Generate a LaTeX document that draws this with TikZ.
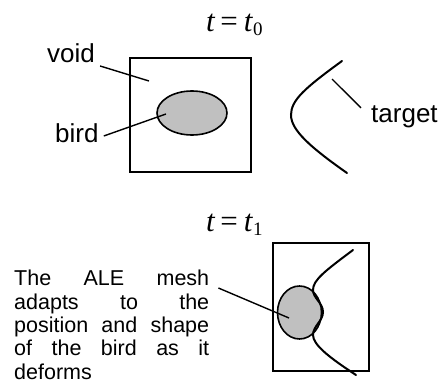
\documentclass[tikz,border=0pt]{standalone}
\usepackage{fontspec}
\setmainfont{Liberation Serif}
\setsansfont{Liberation Sans}
\usetikzlibrary{positioning,shapes.geometric}
\definecolor{birdgray}{RGB}{192,192,192}
\newcommand{\timeat}[1]{\textit{t}\hspace{5pt}=\hspace{6pt}\textit{t}%
  \raisebox{-4pt}{\fontsize{19}{19}\selectfont #1}}
\tikzset{
  meshbox/.style={draw,line width=1.6pt,inner sep=0pt},
  birdbody/.style={ellipse,draw,line width=1.6pt,fill=birdgray,inner sep=0pt},
  wall/.style={line width=2pt,line cap=round},
  leader/.style={line width=1.4pt},
  tag/.style={font=\sffamily\fontsize{26}{30}\selectfont,inner sep=0pt},
  timelab/.style={font=\fontsize{31}{34}\selectfont,inner sep=0pt},
  note/.style={font=\sffamily\fontsize{21.5}{23.3}\selectfont,
    text width=195pt,align=justify,inner sep=0pt}
}
\begin{document}
\begin{tikzpicture}[x=1pt,y=1pt]
  \useasboundingbox (0,0) rectangle (439,383);
  % t = t0
  \node[timelab,anchor=base west] (t0) at (206,351) {\timeat{0}};
  \node[meshbox,minimum width=121pt,minimum height=114pt] (void0) at (190.5,268) {};
  \node[birdbody,minimum width=70pt,minimum height=44pt] (bird0) at (192,270) {};
  \draw[wall] (342,322) .. controls (305,295) and (291,283) .. (291,268)
    .. controls (291,253) and (310,236) .. (347,210);
  \node[tag,anchor=base west] (voidlab) at (47,320) {void};
  \node[tag,anchor=base west] (birdlab) at (55,240) {bird};
  \node[tag,anchor=base west] (targetlab) at (371,260) {target};
  \coordinate (voidpt) at (149,302);
  \coordinate (birdpt) at (166,269);
  \coordinate (targetpt) at (332,304);
  \draw[leader] ([shift={(5pt,-3pt)}]voidlab.base east) -- (voidpt);
  \draw[leader] ([shift={(5pt,7pt)}]birdlab.base east) -- (birdpt);
  \draw[leader] ([shift={(-10pt,-2pt)}]targetlab.north west) -- (targetpt);
  % t = t1
  \node[timelab,anchor=base west] (t1) at (206,151) {\timeat{1}};
  \node[meshbox,minimum width=96pt,minimum height=128pt] (void1) at (321,76) {};
  \node[birdbody,minimum width=44pt,minimum height=53pt] (bird1) at (299.5,70.5) {};
  \draw[wall] (353,133) .. controls (325,112) and (313,103) .. (313,93)
    .. controls (313,85) and (323,80) .. (323,71)
    .. controls (323,62) and (313,57) .. (313,48)
    .. controls (313,38) and (330,25) .. (356,8);
  \node[note,anchor=base west] (meshnote) at (14,97)
    {The ALE mesh\linebreak adapts to the\linebreak position and shape\linebreak
     of the bird as it\linebreak deforms};
  \coordinate (meshpt) at (289,65);
  \draw[leader] ([shift={(9pt,-2pt)}]meshnote.base east) -- (meshpt);
\end{tikzpicture}
\end{document}
